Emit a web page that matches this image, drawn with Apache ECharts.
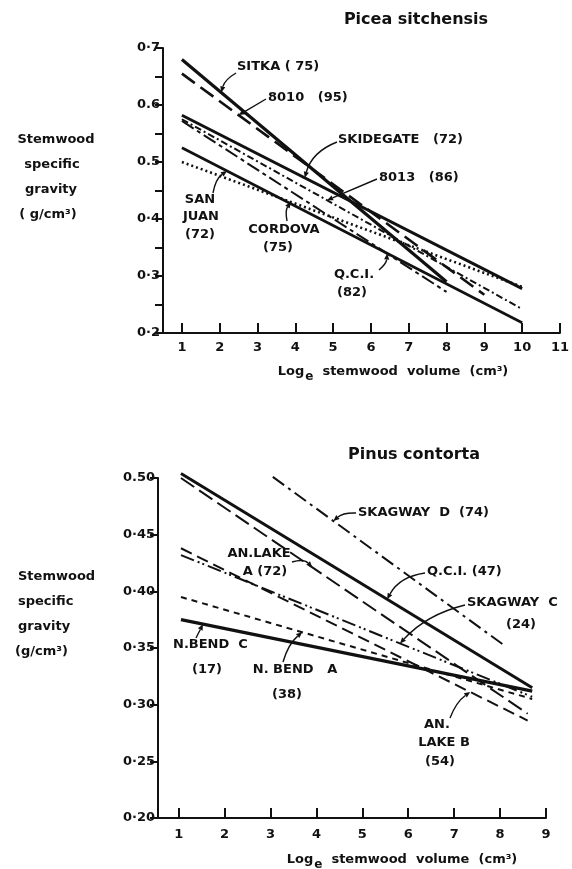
<!DOCTYPE html>
<html>
<head>
<meta charset="utf-8">
<script src="https://cdn.jsdelivr.net/npm/echarts@6/dist/echarts.min.js"></script>
<style>
html, body { margin: 0; padding: 0; background: #fff; }
#main { width: 572px; height: 869px; }
</style>
</head>
<body>
<div id="main"></div>
<script>
// ---- Picea sitchensis (top panel): each regression line from start to end ----
var piceaNames  = ['SITKA (75)', '8010 (95)', 'SKIDEGATE (72)', '8013 (86)', 'SAN JUAN (72)', 'CORDOVA (75)', 'Q.C.I. (82)'];
var piceaStartX = [1, 1, 1, 1, 1, 1, 1];
var piceaStartY = [0.68, 0.655, 0.582, 0.575, 0.525, 0.50, 0.572];
var piceaEndX   = [8, 9, 10, 10, 10, 10, 8];
var piceaEndY   = [0.29, 0.267, 0.278, 0.242, 0.218, 0.281, 0.272];
var piceaXTicks = [1, 2, 3, 4, 5, 6, 7, 8, 9, 10, 11];
var piceaYTicks = ['0·2', '0·3', '0·4', '0.5', '0.6', '0·7'];

// ---- Pinus contorta (bottom panel) ----
var pinusNames  = ['SKAGWAY D (74)', 'Q.C.I. (47)', 'AN.LAKE A (72)', 'AN.LAKE B (54)', 'SKAGWAY C (24)', 'N.BEND A (38)', 'N.BEND C (17)'];
var pinusStartX = [3.05, 1.05, 1.05, 1.05, 1.05, 1.05, 1.05];
var pinusStartY = [0.501, 0.504, 0.50, 0.438, 0.432, 0.395, 0.375];
var pinusEndX   = [8.1, 8.7, 8.6, 8.6, 8.7, 8.7, 8.7];
var pinusEndY   = [0.352, 0.315, 0.292, 0.286, 0.307, 0.305, 0.312];
var pinusXTicks = [1, 2, 3, 4, 5, 6, 7, 8, 9];
var pinusYTicks = ['0·20', '0·25', '0·30', '0·35', '0·40', '0·45', '0.50'];

// line looks, same order as the names
var piceaStyles = [
    { width: 3.2, type: 'solid' },
    { width: 2.6, type: [16, 7] },
    { width: 3, type: 'solid' },
    { width: 2, type: [7, 3, 2, 3] },
    { width: 2.6, type: 'solid' },
    { width: 2.6, type: [2, 3] },
    { width: 2, type: [14, 4, 4, 4] }
];
var pinusStyles = [
    { width: 2, type: [14, 5, 3, 5] },
    { width: 3, type: 'solid' },
    { width: 2, type: [16, 6] },
    { width: 2, type: [12, 6] },
    { width: 2, type: [14, 4, 2, 3, 2, 4] },
    { width: 2, type: [6, 5] },
    { width: 3.4, type: 'solid' }
];

var FONT = 'DejaVu Sans';
var ink = '#111';

function buildSeries(names, sx, sy, ex, ey, styles, axis) {
    return names.map(function (n, i) {
        return {
            name: n,
            type: 'line',
            xAxisIndex: axis,
            yAxisIndex: axis,
            data: [[sx[i], sy[i]], [ex[i], ey[i]]],
            symbol: 'none',
            clip: false,
            silent: true,
            lineStyle: { color: ink, width: styles[i].width, type: styles[i].type, cap: 'butt' }
        };
    });
}

function xAxisOf(grid, min, max, ticks, margin) {
    return {
        type: 'value', gridIndex: grid, min: min, max: max,
        splitLine: { show: false },
        axisLine: { lineStyle: { color: ink, width: 2 } },
        axisTick: { inside: true, length: 10, lineStyle: { color: ink, width: 2 }, customValues: ticks },
        axisLabel: { customValues: ticks, margin: margin, color: ink, fontFamily: FONT, fontWeight: 'bold', fontSize: 13 }
    };
}

function yAxisOf(grid, min, max, labels, every) {
    return {
        type: 'value', gridIndex: grid, min: min, max: max, interval: 0.05,
        splitLine: { show: false },
        axisLine: { lineStyle: { color: ink, width: 2 } },
        axisTick: { length: 8, lineStyle: { color: ink, width: 2 } },
        axisLabel: {
            margin: 3, color: ink, fontFamily: FONT, fontWeight: 'bold', fontSize: 13,
            formatter: function (v) {
                var k = Math.round((v - min) / 0.05);
                if (k % every) return '';
                return labels[k / every];
            }
        }
    };
}

var chart = echarts.init(document.getElementById('main'));
chart.setOption({
    animation: false,
    backgroundColor: '#fff',
    grid: [
        { left: 163, top: 48, width: 404, height: 285 },
        { left: 158, top: 478, width: 388, height: 340 }
    ],
    xAxis: [xAxisOf(0, 0.5, 11, piceaXTicks, 8), xAxisOf(1, 0.55, 9, pinusXTicks, 10)],
    yAxis: [yAxisOf(0, 0.2, 0.7, piceaYTicks, 2), yAxisOf(1, 0.2, 0.5, pinusYTicks, 1)],
    series: buildSeries(piceaNames, piceaStartX, piceaStartY, piceaEndX, piceaEndY, piceaStyles, 0)
        .concat(buildSeries(pinusNames, pinusStartX, pinusStartY, pinusEndX, pinusEndY, pinusStyles, 1))
});

// ---- annotations: text in page pixels, arrow tips land on the fitted lines ----
var texts = [
    ['Picea sitchensis', 416, 20, 'center', 16],
    ['SITKA ( 75)', 237, 67, 'left'],
    ['8010   (95)', 268, 98, 'left'],
    ['SKIDEGATE   (72)', 338, 140, 'left'],
    ['8013   (86)', 379, 178, 'left'],
    ['SAN', 200, 200, 'center'], ['JUAN', 201, 217, 'center'], ['(72)', 200, 235, 'center'],
    ['CORDOVA', 284, 230, 'center'], ['(75)', 278, 248, 'center'],
    ['Q.C.I.', 354, 275, 'center'], ['(82)', 352, 293, 'center'],
    ['Stemwood', 56, 140, 'center'], ['specific', 52, 165, 'center'],
    ['gravity', 51, 190, 'center'], ['( g/cm³)', 48, 215, 'center'],

    ['Pinus contorta', 414, 455, 'center', 16],
    ['SKAGWAY  D  (74)', 358, 513, 'left'],
    ['Q.C.I. (47)', 427, 572, 'left'],
    ['SKAGWAY  C', 467, 603, 'left'], ['(24)', 521, 625, 'center'],
    ['AN.LAKE', 259, 554, 'center'], ['A (72)', 265, 572, 'center'],
    ['N.BEND  C', 173, 645, 'left'], ['(17)', 207, 670, 'center'],
    ['N. BEND   A', 295, 670, 'center'], ['(38)', 287, 695, 'center'],
    ['AN.', 437, 725, 'center'], ['LAKE B', 444, 743, 'center'], ['(54)', 440, 762, 'center'],
    ['Stemwood', 18, 577, 'left'], ['specific', 18, 602, 'left'],
    ['gravity', 18, 627, 'left'], ['(g/cm³)', 15, 652, 'left']
];

// [start px x, start px y, panel, series index, x of tip on that line, bend]
var arrows = [
    [236, 73, 0, 0, 2.04, 0.2],
    [266, 99, 0, 1, 2.5, 0],
    [337, 142, 0, 2, 4.25, 0.25],
    [377, 179, 0, 3, 4.84, 0],
    [213, 193, 0, 4, 2.19, -0.2],
    [287, 221, 0, 5, 3.88, -0.2],
    [379, 270, 0, 6, 6.43, 0.2],
    [356, 513, 1, 0, 4.37, 0.2],
    [425, 573, 1, 1, 5.54, 0.25],
    [465, 605, 1, 4, 5.82, 0.15],
    [292, 562, 1, 2, 3.91, -0.3],
    [196, 638, 1, 6, 1.53, 0],
    [283, 662, 1, 5, 3.69, -0.15],
    [450, 718, 1, 3, 7.35, -0.15]
];

function pointOnLine(panel, s, x) {
    var sx = panel ? pinusStartX : piceaStartX, sy = panel ? pinusStartY : piceaStartY;
    var ex = panel ? pinusEndX : piceaEndX, ey = panel ? pinusEndY : piceaEndY;
    var y = sy[s] + (x - sx[s]) * (ey[s] - sy[s]) / (ex[s] - sx[s]);
    return chart.convertToPixel({ xAxisIndex: panel, yAxisIndex: panel }, [x, y]);
}

var graphics = [];
texts.forEach(function (t) {
    graphics.push({
        type: 'text', x: t[1], y: t[2], silent: true,
        style: {
            text: t[0], fill: ink, textAlign: t[3], textVerticalAlign: 'middle',
            font: 'bold ' + (t[4] || 13) + 'px "' + FONT + '"'
        }
    });
});

[[393, 372], [402, 860]].forEach(function (p) {
    graphics.push({
        type: 'text', x: p[0], y: p[1], silent: true,
        style: {
            text: '{a|Log}{e|e}{a|  stemwood  volume  (cm³)}',
            textAlign: 'center', textVerticalAlign: 'middle',
            rich: {
                a: { fill: ink, font: 'bold 13px "' + FONT + '"' },
                e: { fill: ink, font: 'bold 12px "' + FONT + '"', padding: [9, 0, 0, 1] }
            }
        }
    });
});

arrows.forEach(function (a) {
    var tip = pointOnLine(a[2], a[3], a[4]);
    var sx = a[0], sy = a[1], tx = tip[0], ty = tip[1];
    var dx = tx - sx, dy = ty - sy, len = Math.sqrt(dx * dx + dy * dy);
    var cx = (sx + tx) / 2 - dy / len * a[5] * len, cy = (sy + ty) / 2 + dx / len * a[5] * len;
    var hx = tx - cx, hy = ty - cy, hl = Math.sqrt(hx * hx + hy * hy);
    hx /= hl; hy /= hl;
    var bx = tx - hx * 6, by = ty - hy * 6;
    graphics.push({
        type: 'bezierCurve', silent: true,
        shape: { x1: sx, y1: sy, x2: bx, y2: by, cpx1: cx, cpy1: cy },
        style: { stroke: ink, lineWidth: 1.4, fill: null }
    });
    graphics.push({
        type: 'polygon', silent: true,
        shape: { points: [[tx, ty], [bx - hy * 2.6, by + hx * 2.6], [bx + hy * 2.6, by - hx * 2.6]] },
        style: { fill: ink }
    });
});

chart.setOption({ graphic: graphics });
</script>
</body>
</html>
